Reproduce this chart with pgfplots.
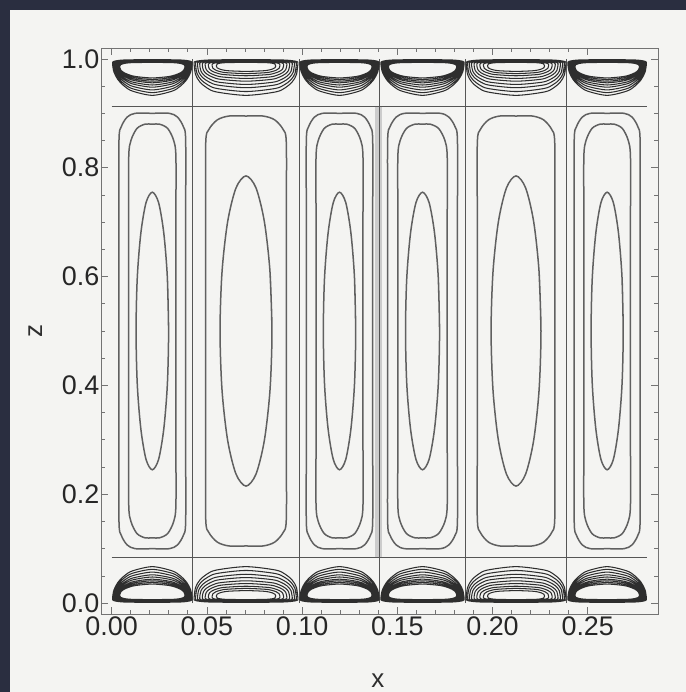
\documentclass[border=0pt]{standalone}
\usepackage{pgfplots}
\pgfplotsset{compat=1.18}
\usepackage{pgfplotstable}
\usepackage{fontspec}
\setmainfont{Liberation Sans}
\definecolor{navy}{HTML}{2A2E40}
\definecolor{panel}{HTML}{F4F4F2}
\definecolor{cline}{HTML}{606060}
\definecolor{bline}{HTML}{2E2E2E}
\definecolor{gline}{HTML}{555555}

% ---- interior cells: narrow (outer, middle, inner) ----
\pgfplotstableread{
u z
0.91 0.5
0.91 0.7
0.91 0.85
0.883 0.875
0.81 0.893
0.71 0.9
0.5 0.9
0.29 0.9
0.19 0.893
0.117 0.875
0.09 0.85
0.09 0.7
0.09 0.5
0.09 0.3
0.09 0.15
0.117 0.125
0.19 0.107
0.29 0.1
0.5 0.1
0.71 0.1
0.81 0.107
0.883 0.125
0.91 0.15
0.91 0.3
0.91 0.5
0.91 0.7
nan nan
0.79 0.5
0.79 0.7
0.79 0.82
0.763 0.85
0.69 0.872
0.59 0.88
0.5 0.88
0.41 0.88
0.31 0.872
0.237 0.85
0.21 0.82
0.21 0.7
0.21 0.5
0.21 0.3
0.21 0.18
0.237 0.15
0.31 0.128
0.41 0.12
0.5 0.12
0.59 0.12
0.69 0.128
0.763 0.15
0.79 0.18
0.79 0.3
0.79 0.5
0.79 0.7
nan nan
0.7 0.5
0.685 0.598
0.641 0.680
0.577 0.736
0.5 0.755
0.423 0.736
0.359 0.680
0.315 0.598
0.3 0.5
0.315 0.402
0.359 0.320
0.423 0.264
0.5 0.245
0.577 0.264
0.641 0.320
0.685 0.402
0.7 0.5
0.685 0.598
}\narrowMid

% ---- interior cells: wide (outer, inner) ----
\pgfplotstableread{
u z
0.88 0.5
0.88 0.7
0.88 0.845
0.851 0.870
0.77 0.888
0.66 0.895
0.5 0.895
0.34 0.895
0.23 0.888
0.149 0.870
0.12 0.845
0.12 0.7
0.12 0.5
0.12 0.3
0.12 0.155
0.149 0.13
0.23 0.112
0.34 0.105
0.5 0.105
0.66 0.105
0.77 0.112
0.851 0.13
0.88 0.155
0.88 0.3
0.88 0.5
0.88 0.7
nan nan
0.745 0.5
0.726 0.609
0.673 0.701
0.594 0.763
0.5 0.785
0.406 0.763
0.327 0.701
0.274 0.609
0.255 0.5
0.274 0.391
0.327 0.299
0.406 0.237
0.5 0.215
0.594 0.237
0.673 0.299
0.726 0.391
0.745 0.5
0.726 0.609
}\wideMid

% ---- boundary layer, narrow cells (d = distance from wall) ----
\pgfplotstableread{
u d
0.9 0.016
0.886 0.0209
0.846 0.0255
0.783 0.0294
0.7 0.0325
0.5 0.035
0.3 0.0325
0.217 0.0294
0.154 0.0255
0.114 0.0209
0.1 0.016
0.1122 0.0104
0.2172 0.0072
0.5 0.0065
0.7828 0.0072
0.8878 0.0104
0.9 0.016
0.886 0.0209
nan nan
0.915 0.015
0.9009 0.021
0.8594 0.0265
0.7934 0.0313
0.7075 0.0349
0.5 0.038
0.2925 0.0349
0.2066 0.0313
0.1406 0.0265
0.0991 0.021
0.085 0.015
0.0977 0.0094
0.2066 0.0062
0.5 0.0055
0.7934 0.0062
0.9023 0.0094
0.915 0.015
0.9009 0.021
nan nan
0.93 0.014
0.9154 0.021
0.8724 0.0275
0.804 0.0331
0.715 0.0374
0.5 0.041
0.285 0.0374
0.196 0.0331
0.1276 0.0275
0.0846 0.021
0.07 0.014
0.0831 0.0086
0.196 0.0053
0.5 0.0047
0.804 0.0053
0.9169 0.0086
0.93 0.014
0.9154 0.021
nan nan
0.942 0.013
0.927 0.021
0.8828 0.0285
0.8125 0.0349
0.721 0.0399
0.5 0.044
0.279 0.0399
0.1875 0.0349
0.1172 0.0285
0.073 0.021
0.058 0.013
0.0715 0.0077
0.1875 0.0046
0.5 0.004
0.8125 0.0046
0.9285 0.0077
0.942 0.013
0.927 0.021
nan nan
0.954 0.012
0.9386 0.0213
0.8932 0.03
0.821 0.0375
0.727 0.0432
0.5 0.048
0.273 0.0432
0.179 0.0375
0.1068 0.03
0.0614 0.0213
0.046 0.012
0.0598 0.007
0.179 0.004
0.5 0.0034
0.821 0.004
0.9402 0.007
0.954 0.012
0.9386 0.0213
nan nan
0.964 0.011
0.9482 0.0216
0.9018 0.0315
0.828 0.04
0.732 0.0465
0.5 0.052
0.268 0.0465
0.172 0.04
0.0982 0.0315
0.0518 0.0216
0.036 0.011
0.0502 0.0062
0.172 0.0034
0.5 0.0028
0.828 0.0034
0.9498 0.0062
0.964 0.011
0.9482 0.0216
nan nan
0.973 0.010
0.9569 0.0222
0.9096 0.0335
0.8344 0.0432
0.7365 0.0507
0.5 0.057
0.2635 0.0507
0.1656 0.0432
0.0904 0.0335
0.0431 0.0222
0.027 0.010
0.0414 0.0055
0.1656 0.0028
0.5 0.0023
0.8344 0.0028
0.9586 0.0055
0.973 0.010
0.9569 0.0222
nan nan
0.981 0.010
0.9646 0.0235
0.9165 0.036
0.8401 0.0468
0.7405 0.055
0.5 0.062
0.2595 0.055
0.1599 0.0468
0.0835 0.036
0.0354 0.0235
0.019 0.010
0.0337 0.0053
0.1599 0.0025
0.5 0.0019
0.8401 0.0025
0.9663 0.0053
0.981 0.010
0.9646 0.0235
nan nan
0.989 0.009
0.9724 0.024
0.9235 0.038
0.8457 0.05
0.7445 0.0592
0.5 0.067
0.2555 0.0592
0.1543 0.05
0.0765 0.038
0.0276 0.024
0.011 0.009
0.0259 0.0046
0.1543 0.002
0.5 0.0015
0.8457 0.002
0.9741 0.0046
0.989 0.009
0.9724 0.024
}\narrowBL

% ---- boundary layer, wide cells ----
\pgfplotstableread{
u d
0.78 0.013
0.7724 0.0164
0.7495 0.0187
0.7122 0.0206
0.6607 0.0219
0.5 0.023
0.3393 0.0219
0.2878 0.0206
0.2505 0.0187
0.2276 0.0164
0.22 0.013
0.2285 0.0092
0.302 0.007
0.5 0.0065
0.698 0.007
0.7715 0.0092
0.78 0.013
0.7724 0.0164
nan nan
0.82 0.0125
0.8114 0.0174
0.7851 0.0208
0.7426 0.0235
0.6837 0.0254
0.5 0.027
0.3163 0.0254
0.2574 0.0235
0.2149 0.0208
0.1886 0.0174
0.18 0.0125
0.1898 0.0084
0.2738 0.006
0.5 0.0055
0.7262 0.006
0.8102 0.0084
0.82 0.0125
0.8114 0.0174
nan nan
0.855 0.012
0.8454 0.0184
0.8163 0.0229
0.7691 0.0264
0.7038 0.0289
0.5 0.031
0.2962 0.0289
0.2309 0.0264
0.1837 0.0229
0.1546 0.0184
0.145 0.012
0.1558 0.0077
0.249 0.0052
0.5 0.0047
0.751 0.0052
0.8442 0.0077
0.855 0.012
0.8454 0.0184
nan nan
0.885 0.0115
0.8746 0.0198
0.843 0.0256
0.7918 0.0301
0.721 0.0333
0.5 0.036
0.279 0.0333
0.2082 0.0301
0.157 0.0256
0.1254 0.0198
0.115 0.0115
0.1267 0.0071
0.2278 0.0045
0.5 0.004
0.7722 0.0045
0.8733 0.0071
0.885 0.0115
0.8746 0.0198
nan nan
0.912 0.011
0.9009 0.0212
0.8671 0.0282
0.8123 0.0337
0.7365 0.0377
0.5 0.041
0.2635 0.0377
0.1877 0.0337
0.1329 0.0282
0.0991 0.0212
0.088 0.011
0.1006 0.0066
0.2087 0.0039
0.5 0.0034
0.7913 0.0039
0.8994 0.0066
0.912 0.011
0.9009 0.0212
nan nan
0.936 0.0105
0.9242 0.0229
0.8885 0.0315
0.8305 0.0382
0.7503 0.043
0.5 0.047
0.2497 0.043
0.1695 0.0382
0.1115 0.0315
0.0758 0.0229
0.064 0.0105
0.0773 0.006
0.1917 0.0033
0.5 0.0028
0.8083 0.0033
0.9227 0.006
0.936 0.0105
0.9242 0.0229
nan nan
0.957 0.010
0.9447 0.0246
0.9072 0.0347
0.8464 0.0426
0.7623 0.0483
0.5 0.053
0.2377 0.0483
0.1536 0.0426
0.0928 0.0347
0.0553 0.0246
0.043 0.010
0.0569 0.0055
0.1769 0.0028
0.5 0.0023
0.8231 0.0028
0.9431 0.0055
0.957 0.010
0.9447 0.0246
nan nan
0.975 0.0095
0.9622 0.0266
0.9232 0.0385
0.8601 0.0478
0.7727 0.0545
0.5 0.060
0.2273 0.0545
0.1399 0.0478
0.0768 0.0385
0.0378 0.0266
0.025 0.0095
0.0395 0.0051
0.1642 0.0024
0.5 0.0019
0.8358 0.0024
0.9605 0.0051
0.975 0.0095
0.9622 0.0266
nan nan
0.989 0.009
0.9758 0.0287
0.9357 0.0423
0.8707 0.053
0.7807 0.0607
0.5 0.067
0.2193 0.0607
0.1293 0.053
0.0643 0.0423
0.0242 0.0287
0.011 0.009
0.0259 0.0046
0.1543 0.002
0.5 0.0015
0.8457 0.002
0.9741 0.0046
0.989 0.009
0.9758 0.0287
}\wideBL

\begin{document}
\begin{tikzpicture}
\useasboundingbox (0,0) rectangle (686bp,692bp);
\fill[navy] (0,0) rectangle (686bp,692bp);
\fill[panel] (10bp,0) rectangle (686bp,682bp);
\begin{axis}[
  at={(101bp,78bp)}, anchor=south west,
  scale only axis, width=557bp, height=566bp,
  xmin=-0.0056, xmax=0.2869, ymin=-0.02, ymax=1.02,
  unbounded coords=jump,
  axis line style={black!55, line width=0.9bp},
  xtick={0,0.05,0.1,0.15,0.2,0.25},
  ytick={0,0.2,0.4,0.6,0.8,1.0},
  minor x tick num=4, minor y tick num=3,
  major tick length=7bp, minor tick length=4bp,
  tick style={black!55, line width=0.7bp},
  tick align=inside,
  xtick pos=both, ytick pos=both,
  /pgf/number format/assume math mode=true,
  tick label style={font=\fontsize{27}{27}\selectfont, text=black!85},
  xticklabel style={/pgf/number format/fixed, /pgf/number format/fixed zerofill, /pgf/number format/precision=2, inner sep=2.5bp},
  yticklabel style={/pgf/number format/fixed, /pgf/number format/fixed zerofill, /pgf/number format/precision=1, inner sep=1.5bp},
  xlabel={x}, ylabel={z},
  label style={font=\fontsize{26}{26}\selectfont, text=black!82},
  xlabel style={at={(axis description cs:0.497,-0.117)}, anchor=center},
  ylabel style={at={(axis description cs:-0.118,0.5)}, anchor=center},
  clip=false,
]
% faint band
\addplot[black!20, line width=7bp] coordinates {(0.1402,0.083) (0.1402,0.912)};
% cell boundaries
\addplot[gline, line width=1bp] coordinates {(0.0427,0) (0.0427,1)};
\addplot[gline, line width=1bp] coordinates {(0.0984,0) (0.0984,1)};
\addplot[gline, line width=1bp] coordinates {(0.1409,0) (0.1409,1)};
\addplot[gline, line width=1bp] coordinates {(0.1856,0) (0.1856,1)};
\addplot[gline, line width=1bp] coordinates {(0.2391,0) (0.2391,1)};
\addplot[gline, line width=1bp] coordinates {(0,0.083) (0.2813,0.083)};
\addplot[gline, line width=1bp] coordinates {(0,0.912) (0.2813,0.912)};
% contours
\foreach \a/\w in {0/0.0427, 0.0984/0.0425, 0.1409/0.0447, 0.2391/0.0422} {
  \addplot[cline, line width=1.5bp, smooth] table[x expr=\thisrow{u}*\w+\a, y=z] {\narrowMid};
  \addplot[bline, line width=1.05bp, smooth] table[x expr=\thisrow{u}*\w+\a, y=d] {\narrowBL};
  \addplot[bline, line width=1.05bp, smooth] table[x expr=\thisrow{u}*\w+\a, y expr=1-\thisrow{d}] {\narrowBL};
}
\foreach \a/\w in {0.0427/0.0557, 0.1856/0.0535} {
  \addplot[cline, line width=1.5bp, smooth] table[x expr=\thisrow{u}*\w+\a, y=z] {\wideMid};
  \addplot[bline, line width=1.05bp, smooth] table[x expr=\thisrow{u}*\w+\a, y=d] {\wideBL};
  \addplot[bline, line width=1.05bp, smooth] table[x expr=\thisrow{u}*\w+\a, y expr=1-\thisrow{d}] {\wideBL};
}
\end{axis}
\end{tikzpicture}
\end{document}
